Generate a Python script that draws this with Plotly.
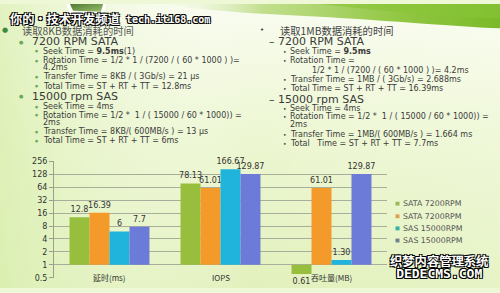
import base64
import math
import plotly.graph_objects as go

# ---------------- data ----------------
categories = ["延时(ms)", "IOPS", "吞吐量(MB)"]
series_names = ["SATA 7200RPM", "SATA 7200RPM", "SAS 15000RPM", "SAS 15000RPM"]
sata_7200_a = [12.8, 78.13, 0.61]
sata_7200_b = [16.39, 61.01, 61.01]
sas_15000_a = [6, 166.67, 1.30]
sas_15000_b = [7.7, 129.87, 129.87]
bar_labels = [
    ["12.8", "78.13", "0.61"],
    ["16.39", "61.01", "61.01"],
    ["6", "166.67", "1.30"],
    ["7.7", "129.87", "129.87"],
]
tick_vals = [0.5, 1, 2, 4, 8, 16, 32, 64, 128, 256]
tick_text = ["0.5", "1", "2", "4", "8", "16", "32", "64", "128", "256"]

series_values = [sata_7200_a, sata_7200_b, sas_15000_a, sas_15000_b]
bar_colors = ["#97bf3d", "#f39a2b", "#20b4dc", "#6d7bd8"]
legend_colors = ["#9cba5c", "#dca24f", "#33b1a7", "#6f8291"]

W, H = 500, 293
def px(x):
    return x / W
def py(y):
    return 1 - y / H

FONT = "DejaVu Sans, Noto Sans CJK SC"
CJK = "Noto Sans CJK SC, DejaVu Sans"

fig = go.Figure()
base_val = 1
for name, vals, labels, col in zip(series_names, series_values, bar_labels, bar_colors):
    fig.add_trace(go.Bar(
        x=categories, y=[v - base_val for v in vals], base=base_val,
        name=name, marker=dict(color=col, line=dict(width=0)),
        text=labels, textposition="outside", textangle=0, constraintext="none",
        cliponaxis=False,
        textfont=dict(family=FONT, size=8, color="#333333"),
        showlegend=False, hoverinfo="skip",
    ))

# ---------------- background (gradient + leaf banner) ----------------
svg = f"""<svg xmlns='http://www.w3.org/2000/svg' width='{W}' height='{H}' viewBox='0 0 {W} {H}' preserveAspectRatio='none'>
<defs>
<linearGradient id='g' x1='0' y1='0' x2='0' y2='1'>
<stop offset='0' stop-color='#f9fcf0'/><stop offset='0.45' stop-color='#edf7d3'/><stop offset='1' stop-color='#e2f1bc'/></linearGradient>
<linearGradient id='h' x1='0' y1='0' x2='1' y2='0'>
<stop offset='0' stop-color='#d8eeac' stop-opacity='0.7'/><stop offset='0.5' stop-color='#ffffff' stop-opacity='0'/><stop offset='1' stop-color='#ffffff' stop-opacity='0.15'/></linearGradient>
<linearGradient id='l' x1='0' y1='0' x2='1' y2='0'>
<stop offset='0' stop-color='#eef6dc' stop-opacity='0'/><stop offset='0.3' stop-color='#c2df8e'/><stop offset='0.7' stop-color='#92c744'/><stop offset='1' stop-color='#7aba28'/></linearGradient>
<linearGradient id='p' x1='0' y1='0' x2='1' y2='1'>
<stop offset='0' stop-color='#4f7a36'/><stop offset='1' stop-color='#9cc06a'/></linearGradient>
</defs>
<rect width='{W}' height='{H}' fill='url(#g)'/>
<rect width='{W}' height='{H}' fill='url(#h)'/>
<path d='M160,0 L500,0 L500,25 C450,23 380,16 300,12 C250,10 200,6 160,0 Z' fill='url(#l)'/>
<path d='M320,0 L500,0 L500,15 C440,13 380,7 320,0 Z' fill='#88c437' opacity='0.6'/>
<path d='M66,0 L106,0 L104,10 L70,9 Z' fill='#ffffff'/>
<path d='M70,0 L103,0 L101,8 L73,7 Z' fill='url(#p)'/>
</svg>"""
src = "data:image/svg+xml;base64," + base64.b64encode(svg.encode("utf-8")).decode("ascii")

annotations = []
shapes = []

def txt(x, y, s, size=8.0, color="#3b3b3b", family=FONT, **kw):
    annotations.append(dict(x=px(x), y=py(y), xref="paper", yref="paper", text=s,
                            showarrow=False, xanchor="left", yanchor="middle",
                            borderpad=0,
                            font=dict(family=family, size=size, color=color, **kw)))

BODY = 8.0
HEAD = 11

# ---------------- slide text: left column ----------------
txt(1, 27, "●", size=7, color="#3f8a3a")
txt(21, 27.3, "读取8KB数据消耗的时间", size=10.3, color="#555555", family=CJK)
txt(18, 39, "●", size=5, color="#6aa85a")
txt(31, 39, "7200 RPM SATA", size=HEAD, color="#3a3a3a")
left_l3 = [
    (49, "Seek Time = <b>9.5ms</b>(1)", True),
    (58.5, "Rotation Time = 1/2 * 1 / (7200 / ( 60 * 1000 ) )=", True),
    (65.7, "4.2ms", False),
    (75.3, "Transfer Time = 8KB / ( 3Gb/s) = 21 μs", True),
    (85, "Total Time = ST + RT + TT = 12.8ms", True),
]
for y, s, b in left_l3:
    if b:
        txt(34, y, "●", size=3.5, color="#6aa85a")
    txt(42, y, s, size=BODY)
txt(18, 95, "●", size=5, color="#6aa85a")
txt(31, 95, "15000 rpm SAS", size=HEAD, color="#3a3a3a")
left_l3b = [
    (106, "Seek Time = 4ms", True),
    (114.8, "Rotation Time = 1/2 *  1 / ( 15000 / 60 * 1000)) =", True),
    (122.3, "2ms", False),
    (132, "Transfer Time = 8KB/( 600MB/s ) = 13 μs", True),
    (141, "Total Time = ST + RT + TT = 6ms", True),
]
for y, s, b in left_l3b:
    if b:
        txt(34, y, "●", size=3.5, color="#6aa85a")
    txt(42, y, s, size=BODY)

# ---------------- slide text: right column ----------------
txt(259, 27, "•", size=7, color="#333333")
txt(279, 27.3, "读取1MB数据消耗的时间", size=10.3, color="#444444", family=CJK)
txt(268, 39, "– 7200 RPM SATA", size=HEAD, color="#3a3a3a")
right_l3 = [
    (49.3, 289, "Seek Time = <b>9.5ms</b>", True),
    (58.5, 289, "Rotation Time =", True),
    (68.7, 311, "1/2 * 1 / (7200 / ( 60 * 1000 ) )= 4.2ms", False),
    (78.3, 289, "Transfer Time = 1MB / ( 3Gb/s) = 2.688ms", True),
    (87.3, 289, "Total Time = ST + RT + TT = 16.39ms", True),
]
for y, x, s, b in right_l3:
    if b:
        txt(282, y, "•", size=6, color="#333333")
    txt(x, y, s, size=BODY)
txt(268, 98.3, "– 15000 rpm SAS", size=HEAD, color="#3a3a3a")
right_l3b = [
    (107.7, 289, "Seek Time = 4ms", True),
    (116.5, 289, "Rotation Time = 1/2 *  1 / ( 15000 / 60 * 1000)) =", True),
    (124, 289, "2ms", False),
    (134.7, 289, "Transfer Time = 1MB/( 600MB/s ) = 1.664 ms", True),
    (144, 289, "Total   Time = ST + RT + TT = 7.7ms", True),
]
for y, x, s, b in right_l3b:
    if b:
        txt(282, y, "•", size=6, color="#333333")
    txt(x, y, s, size=BODY)

# ---------------- watermarks ----------------
outline = "-1px -1px 0 #000, 1px -1px 0 #000, -1px 1px 0 #000, 1px 1px 0 #000"
txt(9, 15, "你的•技术开发频道", size=12.2, color="#ffffff", family=CJK, weight="bold", shadow=outline)
txt(125, 15.5, "tech.it168.com", size=10, color="#ffffff", family="DejaVu Sans Mono", weight="bold", shadow=outline)
txt(389, 271,
    "<span style='font-family:Noto Sans CJK SC;font-size:12.3px'>织梦内容管理系统</span><br>"
    "<span style='font-family:DejaVu Sans Mono;font-size:13px'>DEDECMS.COM</span>",
    size=9.6, color="#ffffff", family=CJK, weight="bold", shadow=outline)

# ---------------- legend (manual, compact) ----------------
leg_y = [206, 219, 231.5, 244]
for name, col, y in zip(series_names, legend_colors, leg_y):
    shapes.append(dict(type="rect", xref="paper", yref="paper",
                       x0=px(395.5), x1=px(399.5), y0=py(y + 2), y1=py(y - 2),
                       fillcolor=col, line=dict(width=0)))
    txt(402, y, name, size=7.8, color="#555555")

# ---------------- category labels ----------------
for c in categories:
    annotations.append(dict(x=c, y=py(282), xref="x", yref="paper", text=c, showarrow=False,
                            xanchor="center", yanchor="middle",
                            font=dict(family=CJK, size=8, color="#333333")))

fig.update_layout(
    width=W, height=H, margin=dict(l=0, r=0, t=0, b=0),
    paper_bgcolor="#eef7d6", plot_bgcolor="rgba(0,0,0,0)",
    barmode="group", bargap=0.28, bargroupgap=0,
    showlegend=False,
    images=[dict(source=src, xref="paper", yref="paper", x=0, y=1, sizex=1, sizey=1,
                 sizing="stretch", xanchor="left", yanchor="top", layer="below")],
    xaxis=dict(domain=[px(54), px(387)], showgrid=False, showticklabels=False,
               showline=False, zeroline=False, fixedrange=True),
    yaxis=dict(type="log", range=[math.log10(0.5), math.log10(256)],
               domain=[py(282.5), py(162.3)],
               tickvals=tick_vals, ticktext=tick_text,
               tickfont=dict(family=FONT, size=8, color="#333333"),
               showgrid=True, gridcolor="#a9ae9c", gridwidth=1,
               showline=True, linecolor="#9a9f8f", linewidth=1,
               ticks="outside", ticklen=4, tickcolor="#9a9f8f",
               zeroline=False, fixedrange=True),
    annotations=annotations, shapes=shapes,
)

fig.write_html("out.html")
